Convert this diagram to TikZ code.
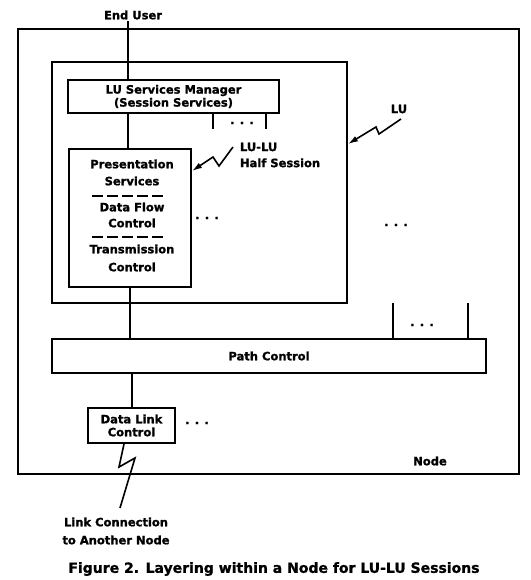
\documentclass[tikz,border=0pt]{standalone}
\usepackage{fontspec}
\setmainfont{DejaVu Sans}[BoldFeatures={FakeBold=1.2}]
\usetikzlibrary{arrows.meta}
\begin{document}
\begin{tikzpicture}[x=1pt, y=-1pt, line width=2pt, font=\bfseries\fontsize{11.5}{13}\selectfont]
\tikzstyle{box}=[draw, rectangle, inner sep=0pt]
\tikzstyle{tx}=[draw=none, fill=none, inner sep=0pt]
\tikzstyle{zap}=[line width=1.6pt]
\tikzstyle{zaparrow}=[zap, -{Latex[length=10pt,width=6pt]}]
\tikzstyle{sep}=[line width=2.5pt, dash pattern=on 11pt off 4pt]
\useasboundingbox (0,0) rectangle (530,580);

\node[box, minimum width=501, minimum height=445] (N) at (268.5,251.5) {};
\node[box, minimum width=295, minimum height=241] (LU) at (199.5,182.5) {};
\node[box, minimum width=211, minimum height=33, align=center] (LUSM) at (173.5,96.5) {LU Services Manager\\(Session Services)};
\node[box, minimum width=122, minimum height=138] (PS) at (130,218) {};
\node[box, minimum width=434, minimum height=34] (PC) at (269,356) {Path Control};
\node[box, minimum width=87, minimum height=35, align=center] (DLC) at (131.5,425.5) {Data Link\\Control};

\node[tx] (EU) at (133,15) {End User};
\node[tx] (P1) at (132,164) {Presentation};
\node[tx] (P2) at (132,181) {Services};
\node[tx] (D1) at (132,207) {Data Flow};
\node[tx] (D2) at (132,223) {Control};
\node[tx] (T1) at (132,249) {Transmission};
\node[tx] (T2) at (132,267) {Control};
\node[tx, anchor=west, align=left] (HS) at (239,155) {LU-LU\\[3pt]Half Session};
\node[tx] (LUlbl) at (399,109) {LU};
\node[tx] (Nlbl) at (430,461) {Node};
\node[tx, align=center] (LC) at (116,531) {Link Connection\\[5pt]to Another Node};
\node[tx, font=\bfseries\fontsize{14}{16}\selectfont] (cap) at (274,569) {Figure 2. Layering within a Node for LU-LU Sessions};

\node[tx] (dots1) at (242,123) {. . .};
\node[tx] (dots2) at (207,218) {. . .};
\node[tx] (dots3) at (396,225) {. . .};
\node[tx] (dots4) at (422,325) {. . .};
\node[tx] (dots5) at (197,423) {. . .};

\coordinate (u) at (128,21);
\draw (u) -- (u |- LUSM.north);
\draw (u |- LUSM.south) -- (u |- PS.north);
\draw (PS.south) -- (PS.south |- PC.north);
\draw (DLC.north |- PC.south) -- (DLC.north);
\foreach \x in {213,266} \draw (LUSM.south -| \x,0) -- (\x,129);
\foreach \x in {393,468} \draw (PC.north -| \x,0) -- (\x,303);

\draw[sep] (92,196) -- (163,196);
\draw[sep] (92,237) -- (163,237);

\draw[zaparrow] (233,147) -- (219,166) -- (213,157) -- (PS.east |- 0,171);
\draw[zaparrow] (401,119) -- (379,134) -- (376,127) -- (LU.east |- 0,144);
\draw[zap] (DLC.south -| 124,0) -- (119,467) -- (135,458) -- (120,508);
\end{tikzpicture}
\end{document}
